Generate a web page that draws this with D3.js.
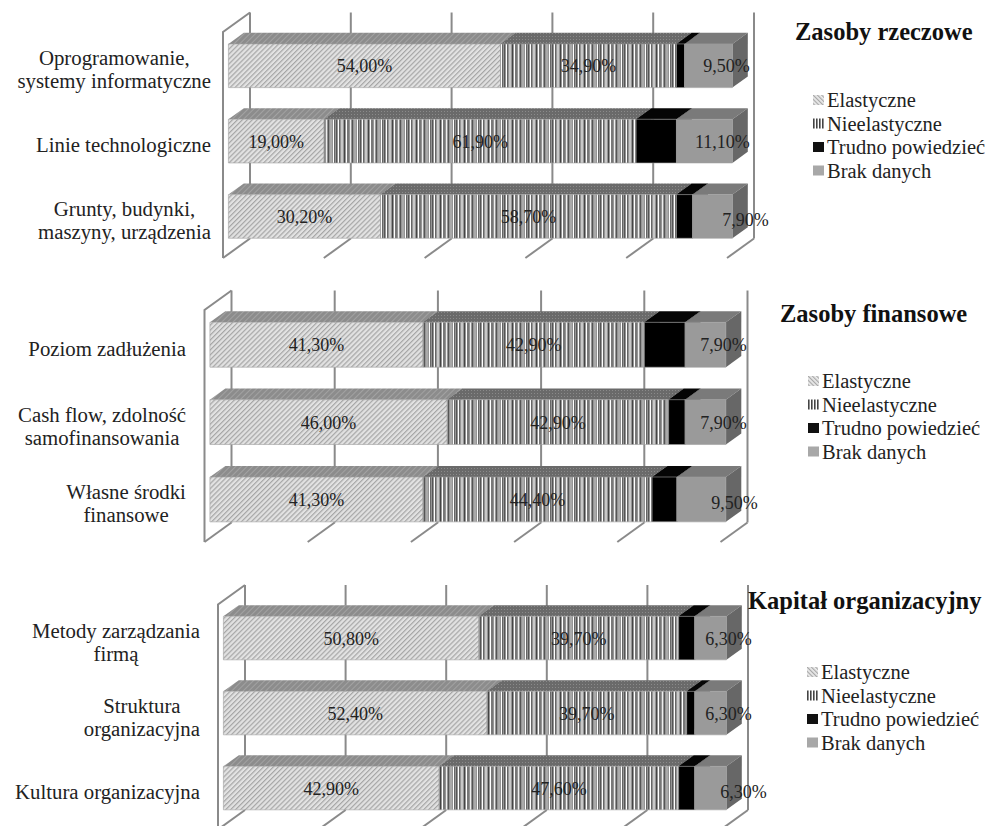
<!DOCTYPE html>
<html>
<head>
<meta charset="utf-8">
<script src="https://cdn.jsdelivr.net/npm/d3@7"></script>
<style>
  body { margin: 0; background: #fff; }
  svg { display: block; }
</style>
</head>
<body>
<div id="chart"></div>
<script>
// Series and panel data
const seriesNames = ["Elastyczne", "Nieelastyczne", "Trudno powiedzieć", "Brak danych"];
const panelTitles = ["Zasoby rzeczowe", "Zasoby finansowe", "Kapitał organizacyjny"];
const tickValues = [0, 20, 40, 60, 80, 100];

const rzeczoweLabels = [["Oprogramowanie,", "systemy informatyczne"], ["Linie technologiczne"], ["Grunty, budynki,", "maszyny, urządzenia"]];
const rzeczoweValues = [[54.0, 34.9, 1.6, 9.5], [19.0, 61.9, 8.0, 11.1], [30.2, 58.7, 3.2, 7.9]];

const finansoweLabels = [["Poziom zadłużenia"], ["Cash flow, zdolność", "samofinansowania"], ["Własne środki", "finansowe"]];
const finansoweValues = [[41.3, 42.9, 7.9, 7.9], [46.0, 42.9, 3.2, 7.9], [41.3, 44.4, 4.8, 9.5]];

const organizacyjnyLabels = [["Metody zarządzania", "firmą"], ["Struktura", "organizacyjna"], ["Kultura organizacyjna"]];
const organizacyjnyValues = [[50.8, 39.7, 3.2, 6.3], [52.4, 39.7, 1.6, 6.3], [42.9, 47.6, 3.2, 6.3]];

// layout of each panel (front plane of the 3D box)
const panels = [
  { title: panelTitles[0], labels: rzeczoweLabels, values: rzeczoweValues,
    x0: 223, w: 504, yTop: 32, h: 226, labelRight: 211, titleX: 795, titleY: 40, legX: 813, legY: 100 },
  { title: panelTitles[1], labels: finansoweLabels, values: finansoweValues,
    x0: 204.5, w: 516, yTop: 310, h: 232, labelRight: 186, titleX: 780, titleY: 322, legX: 808, legY: 381 },
  { title: panelTitles[2], labels: organizacyjnyLabels, values: organizacyjnyValues,
    x0: 218, w: 503, yTop: 604.5, h: 225, labelRight: 200, titleX: 748, titleY: 609, legX: 807, legY: 672 }
];

const FONT = "'Liberation Serif', Tinos, 'Times New Roman', 'DejaVu Serif', serif";
const depth = { x: 27, y: -19.5 };
const barFront = 0.2, barBack = 0.77;
const brakShiftX = [18, 18, 33], brakShiftY = [0, 0, 3];

const svg = d3.select("#chart").append("svg")
  .attr("width", 992).attr("height", 826)
  .style("font-family", FONT);

const defs = svg.append("defs");

// Elastyczne front: fine "////" hatching
const pElas = defs.append("pattern").attr("id", "elasFront")
  .attr("patternUnits", "userSpaceOnUse").attr("width", 3.5).attr("height", 3.5)
  .attr("patternTransform", "rotate(45)");
pElas.append("rect").attr("width", 3.5).attr("height", 3.5).attr("fill", "#e2e2e2");
pElas.append("rect").attr("width", 1.2).attr("height", 3.5).attr("fill", "#a6a6a6");

const pElasTop = defs.append("pattern").attr("id", "elasTop")
  .attr("patternUnits", "userSpaceOnUse").attr("width", 4).attr("height", 4)
  .attr("patternTransform", "rotate(45)");
pElasTop.append("rect").attr("width", 4).attr("height", 4).attr("fill", "#8c8c8c");
pElasTop.append("rect").attr("width", 1).attr("height", 4).attr("fill", "#a2a2a2");

// Nieelastyczne front: irregular vertical stripes
const stripes = [[0, 1, "#555"], [2, 1, "#fff"], [3, 1, "#666"], [5, 2, "#c8c8c8"], [8, 1, "#444"],
  [10, 1, "#fff"], [11, 2, "#777"], [14, 1, "#eee"], [16, 1, "#555"], [18, 2, "#aaa"], [21, 1, "#fff"], [22, 1, "#666"]];
const pNie = defs.append("pattern").attr("id", "nieFront")
  .attr("patternUnits", "userSpaceOnUse").attr("width", 24).attr("height", 10);
pNie.append("rect").attr("width", 24).attr("height", 10).attr("fill", "#959595");
pNie.selectAll("rect.s").data(stripes).enter().append("rect")
  .attr("class", "s").attr("x", d => d[0]).attr("width", d => d[1]).attr("height", 10).attr("fill", d => d[2]);

const pNieTop = defs.append("pattern").attr("id", "nieTop")
  .attr("patternUnits", "userSpaceOnUse").attr("width", 3).attr("height", 3);
pNieTop.append("rect").attr("width", 3).attr("height", 3).attr("fill", "#6a6a6a");
pNieTop.append("rect").attr("width", 1).attr("height", 1).attr("fill", "#8a8a8a");

// legend swatches
const pLegElas = defs.append("pattern").attr("id", "legElas")
  .attr("patternUnits", "userSpaceOnUse").attr("width", 3).attr("height", 3)
  .attr("patternTransform", "rotate(-45)");
pLegElas.append("rect").attr("width", 3).attr("height", 3).attr("fill", "#ececec");
pLegElas.append("rect").attr("width", 1.2).attr("height", 3).attr("fill", "#a8a8a8");

const pLegNie = defs.append("pattern").attr("id", "legNie")
  .attr("patternUnits", "userSpaceOnUse").attr("width", 3).attr("height", 3);
pLegNie.append("rect").attr("width", 3).attr("height", 3).attr("fill", "#fff");
pLegNie.append("rect").attr("width", 1.6).attr("height", 3).attr("fill", "#444");

const frontFill = ["url(#elasFront)", "url(#nieFront)", "#000", "#9a9a9a"];
const topFill = ["url(#elasTop)", "url(#nieTop)", "#050505", "#7a7a7a"];
const sideFill = ["#7a7a7a", "#5e5e5e", "#000", "#676767"];
const legendFill = ["url(#legElas)", "url(#legNie)", "#111", "#a8a8a8"];

const plLocale = d3.formatLocale({ decimal: ",", thousands: " ", grouping: [3], currency: ["", " zł"] });
const fmt = v => plLocale.format(".2f")(v) + "%";

const proj = (px, py, f) => [px + depth.x * f, py + depth.y * f];
const poly = pts => "M" + pts.map(p => p.join(",")).join("L") + "Z";

panels.forEach(p => {
  const g = svg.append("g");

  const x = d3.scaleLinear().domain([0, 100]).range([p.x0, p.x0 + p.w]);
  const y = d3.scaleBand().domain(d3.range(p.values.length))
    .range([p.yTop, p.yTop + p.h]).paddingInner(0.42).paddingOuter(0.21);
  const yBot = p.yTop + p.h;

  // back wall grid lines
  g.selectAll(".grid").data(tickValues).enter().append("line")
    .attr("x1", d => proj(x(d), p.yTop, 1)[0]).attr("y1", d => proj(x(d), p.yTop, 1)[1])
    .attr("x2", d => proj(x(d), yBot, 1)[0]).attr("y2", d => proj(x(d), yBot, 1)[1])
    .attr("stroke", "#8a8a8a").attr("stroke-width", 2);

  // left wall
  const lw = [proj(x(0), p.yTop, 1), proj(x(0), p.yTop, 0), proj(x(0), yBot, 0)];
  g.append("path").attr("d", "M" + lw.map(q => q.join(",")).join("L"))
    .attr("fill", "none").attr("stroke", "#8a8a8a").attr("stroke-width", 2);

  // floor lines
  g.selectAll(".floor").data(tickValues).enter().append("line")
    .attr("x1", d => proj(x(d), yBot, 1)[0]).attr("y1", d => proj(x(d), yBot, 1)[1])
    .attr("x2", d => proj(x(d), yBot, 0)[0]).attr("y2", d => proj(x(d), yBot, 0)[1])
    .attr("stroke", "#8a8a8a").attr("stroke-width", 2);

  // bars
  const labelLayer = [];
  p.values.forEach((row, i) => {
    const y0 = y(i), bw = y.bandwidth();
    let acc = 0;
    const segs = row.map((v, s) => { const a = acc; acc += v; return { s, a, b: acc, v }; });
    const bg = g.append("g");
    segs.forEach(d => {
      const xa = x(d.a), xb = x(d.b);
      bg.append("path")
        .attr("d", poly([proj(xa, y0, barFront), proj(xb, y0, barFront), proj(xb, y0, barBack), proj(xa, y0, barBack)]))
        .attr("fill", topFill[d.s]);
      bg.append("path")
        .attr("d", poly([proj(xb, y0, barFront), proj(xb, y0, barBack), proj(xb, y0 + bw, barBack), proj(xb, y0 + bw, barFront)]))
        .attr("fill", sideFill[d.s]);
      bg.append("path")
        .attr("d", poly([proj(xa, y0, barFront), proj(xb, y0, barFront), proj(xb, y0 + bw, barFront), proj(xa, y0 + bw, barFront)]))
        .attr("fill", frontFill[d.s]).attr("stroke", "#a0a0a0").attr("stroke-width", 0.6);
    });
    segs.filter(d => d.s !== 2).forEach(d => {
      const c = proj((x(d.a) + x(d.b)) / 2, y0 + bw / 2, barFront);
      const dx = d.s === 3 ? brakShiftX[i] : 0, dy = d.s === 3 ? brakShiftY[i] : 0;
      labelLayer.push({ x: c[0] + dx, y: c[1] + dy + 6.5, t: fmt(d.v) });
    });
  });

  // data labels (grayscale antialiasing via a group with opacity)
  g.append("g").attr("opacity", 0.999)
    .selectAll("text").data(labelLayer).enter().append("text")
    .attr("x", d => d.x).attr("y", d => d.y)
    .attr("text-anchor", "middle").attr("font-size", "18px")
    .attr("font-family", FONT).attr("fill", "#222")
    .text(d => d.t);

  // category labels
  p.labels.forEach((lines, i) => {
    const cy = y(i) + y.bandwidth() / 2;
    const lg = g.append("g");
    lines.forEach((ln, k) => {
      lg.append("text")
        .attr("x", 0)
        .attr("y", cy + 7 + (k - (lines.length - 1) / 2) * 23)
        .attr("text-anchor", "middle").attr("font-size", "20.8px")
        .attr("font-family", FONT).attr("fill", "#222")
        .text(ln);
    });
    const w = lg.node().getBBox().width;
    lg.attr("transform", `translate(${p.labelRight - w / 2},0)`);
  });

  // title
  g.append("text").attr("x", p.titleX).attr("y", p.titleY)
    .attr("font-size", "24.5px").attr("font-weight", "bold")
    .attr("font-family", FONT).attr("fill", "#111")
    .text(p.title);

  // legend
  const leg = g.selectAll(".leg").data(seriesNames).enter().append("g")
    .attr("transform", (d, k) => `translate(${p.legX},${p.legY + k * 23.5})`);
  leg.append("rect").attr("x", 0).attr("y", -5).attr("width", 11).attr("height", 10)
    .attr("fill", (d, k) => legendFill[k]);
  leg.append("text").attr("x", 14).attr("y", 7).attr("font-size", "20.5px")
    .attr("font-family", FONT).attr("fill", "#222").text(d => d);
});
</script>
</body>
</html>
